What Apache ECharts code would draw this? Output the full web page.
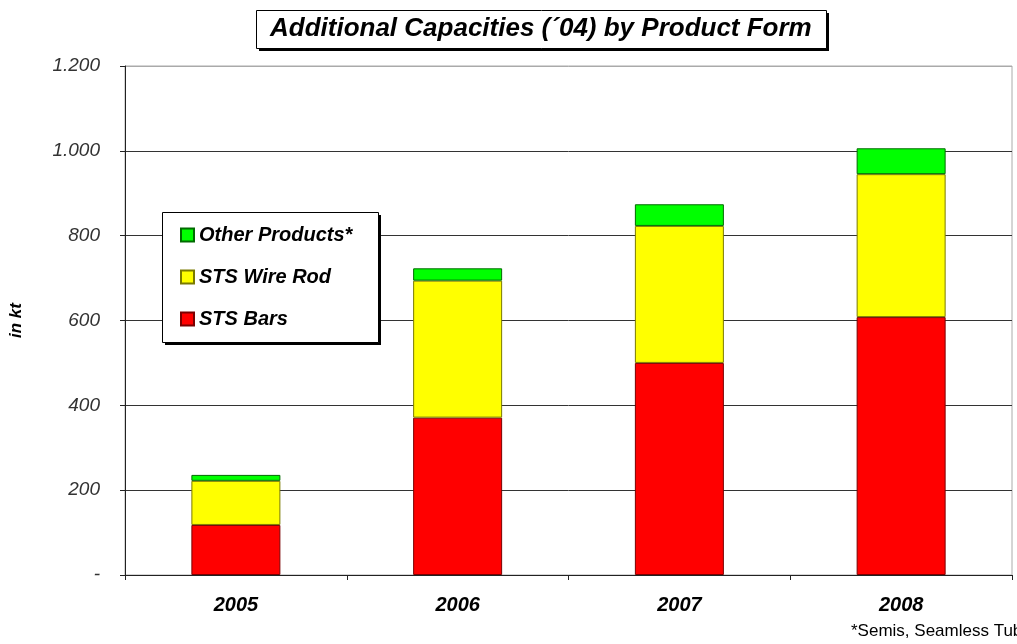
<!DOCTYPE html>
<html>
<head>
<meta charset="utf-8">
<script src="https://cdn.jsdelivr.net/npm/echarts@6/dist/echarts.min.js"></script>
<style>
  html, body { margin: 0; padding: 0; background: #fff; }
  #chart { width: 1017px; height: 644px; }
</style>
</head>
<body>
<div id="chart"></div>
<script>
// Additional capacities by product form, in kt
const years = ['2005', '2006', '2007', '2008'];
const stsBars = [118, 371, 500, 608];
const stsWireRod = [104, 323, 323, 337];
const otherProducts = [14, 29, 51, 61];
const yTicks = [0, 200, 400, 600, 800, 1000, 1200];

const FONT = '"Liberation Sans", Arial, sans-serif';

function fmtKt(v) {
  if (v === 0) return '-';
  return String(v).replace(/\B(?=(\d{3})+(?!\d))/g, '.');
}

const chart = echarts.init(document.getElementById('chart'), null, { renderer: 'canvas' });

// Box geometry for the title and legend frames (drop shadows are drawn as offset black rects)
const titleBox = { x: 256, y: 10, w: 570, h: 38 };
const legendBox = { x: 162, y: 212, w: 216, h: 130 };

chart.setOption({
  animation: false,
  backgroundColor: '#fff',
  textStyle: { fontFamily: FONT },
  title: {
    text: 'Additional Capacities (´04) by Product Form',
    left: titleBox.x + 14,
    top: titleBox.y + 6,
    padding: 0,
    textStyle: {
      fontFamily: FONT,
      fontSize: 26,
      fontWeight: 'bold',
      fontStyle: 'italic',
      color: '#000'
    }
  },
  legend: {
    orient: 'vertical',
    left: legendBox.x,
    top: legendBox.y,
    padding: [13, 27, 13, 18],
    itemWidth: 13,
    itemHeight: 13,
    itemGap: 22,
    icon: 'rect',
    data: ['Other Products*', 'STS Wire Rod', 'STS Bars'],
    textStyle: {
      fontFamily: FONT,
      fontSize: 20,
      fontWeight: 'bold',
      fontStyle: 'italic',
      color: '#000'
    }
  },
  grid: {
    left: 125,
    right: 5,
    top: 66,
    bottom: 69,
    show: true,
    borderColor: '#aaa',
    borderWidth: 1,
    backgroundColor: 'transparent'
  },
  xAxis: {
    type: 'category',
    data: years,
    axisLine: { lineStyle: { color: '#222', width: 1 } },
    axisTick: { show: true, length: 5, inside: false, lineStyle: { color: '#222' } },
    axisLabel: {
      margin: 20,
      fontFamily: FONT,
      fontSize: 20,
      fontWeight: 'bold',
      fontStyle: 'italic',
      color: '#000'
    }
  },
  yAxis: {
    type: 'value',
    min: 0,
    max: 1200,
    interval: 200,
    name: 'in kt',
    nameLocation: 'middle',
    nameGap: 100,
    nameRotate: 90,
    nameTextStyle: {
      fontFamily: FONT,
      fontSize: 17,
      fontWeight: 'bold',
      fontStyle: 'italic',
      color: '#000'
    },
    axisLine: { show: true, lineStyle: { color: '#222', width: 1 } },
    axisTick: { show: true, length: 5, inside: false, lineStyle: { color: '#222' } },
    splitLine: {
      show: true,
      lineStyle: { color: ['#333', '#333', '#333', '#333', '#333', '#333', '#aaa'], width: 1 }
    },
    axisLabel: {
      margin: 25,
      fontFamily: FONT,
      fontSize: 19,
      fontStyle: 'italic',
      color: '#333',
      formatter: fmtKt,
      customValues: yTicks
    }
  },
  series: [
    {
      name: 'STS Bars',
      type: 'bar',
      stack: 'cap',
      barWidth: 89,
      data: stsBars,
      itemStyle: { color: '#ff0000', borderColor: '#7a0000', borderWidth: 1 }
    },
    {
      name: 'STS Wire Rod',
      type: 'bar',
      stack: 'cap',
      barWidth: 89,
      data: stsWireRod,
      itemStyle: { color: '#ffff00', borderColor: '#7a7a00', borderWidth: 1 }
    },
    {
      name: 'Other Products*',
      type: 'bar',
      stack: 'cap',
      barWidth: 89,
      data: otherProducts,
      itemStyle: { color: '#00ff00', borderColor: '#006a00', borderWidth: 1 }
    }
  ],
  graphic: [
    // title frame
    {
      type: 'rect', z: 3, silent: true,
      shape: { x: titleBox.x + 3, y: titleBox.y + 3, width: titleBox.w, height: titleBox.h },
      style: { fill: '#000' }
    },
    {
      type: 'rect', z: 4, silent: true,
      shape: { x: titleBox.x + 0.5, y: titleBox.y + 0.5, width: titleBox.w, height: titleBox.h },
      style: { fill: '#fff', stroke: '#000', lineWidth: 1 }
    },
    // legend frame
    {
      type: 'rect', z: 2, silent: true,
      shape: { x: legendBox.x + 3, y: legendBox.y + 3, width: legendBox.w, height: legendBox.h },
      style: { fill: '#000' }
    },
    {
      type: 'rect', z: 3, silent: true,
      shape: { x: legendBox.x + 0.5, y: legendBox.y + 0.5, width: legendBox.w, height: legendBox.h },
      style: { fill: '#fff', stroke: '#000', lineWidth: 1 }
    },
    {
      type: 'text',
      left: 851,
      top: 623,
      style: {
        text: '*Semis, Seamless Tubes',
        font: '17px ' + FONT,
        fill: '#000'
      }
    }
  ]
});
</script>
</body>
</html>
